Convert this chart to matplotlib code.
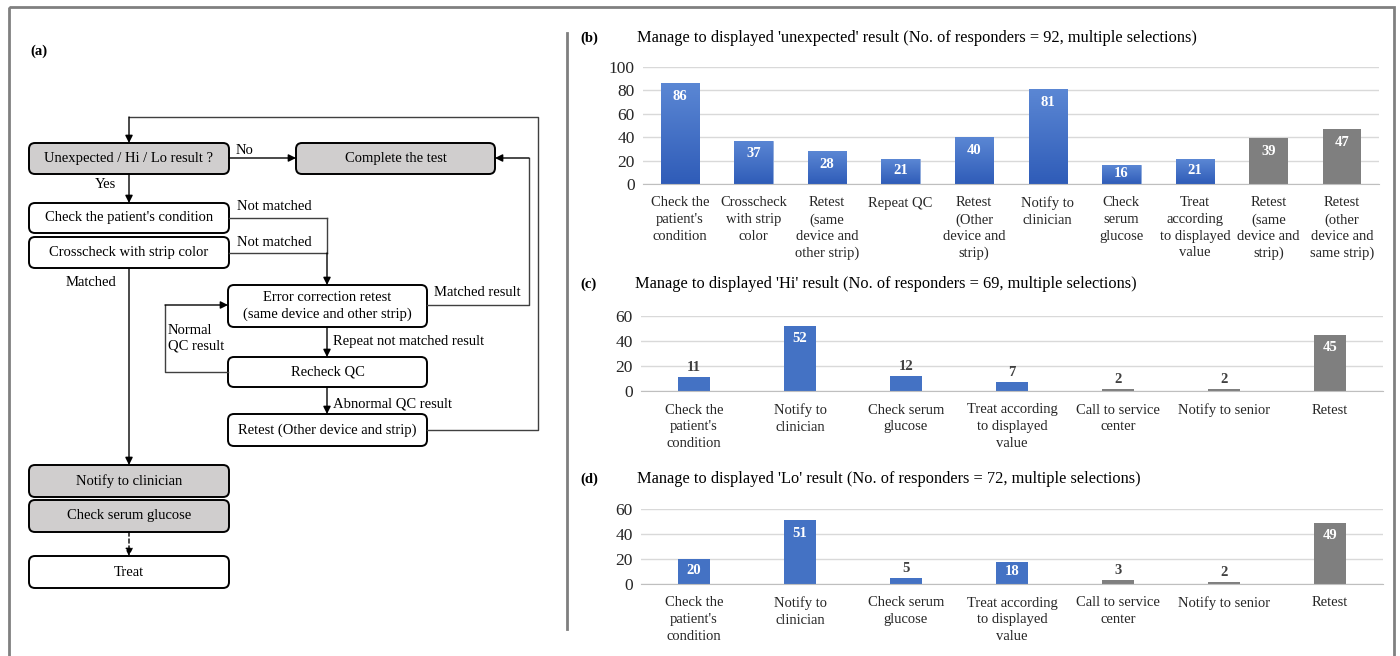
import numpy as np
import matplotlib
matplotlib.use("Agg")
import matplotlib.pyplot as plt
from matplotlib.patches import FancyBboxPatch, Rectangle
from matplotlib.colors import LinearSegmentedColormap

plt.rcParams['font.family'] = ['Liberation Serif', 'DejaVu Serif']

# survey answers, panels (b)-(d)
unexp_labels = ["Check the\npatient's\ncondition", "Crosscheck\nwith strip\ncolor",
                "Retest\n(same\ndevice and\nother strip)", "Repeat QC",
                "Retest\n(Other\ndevice and\nstrip)", "Notify to\nclinician",
                "Check\nserum\nglucose", "Treat\naccording\nto displayed\nvalue",
                "Retest\n(same\ndevice and\nstrip)", "Retest\n(other\ndevice and\nsame strip)"]
unexp_values = [86, 37, 28, 21, 40, 81, 16, 21, 39, 47]
unexp_grey = [False] * 8 + [True] * 2

hilo_labels = ["Check the\npatient's\ncondition", "Notify to\nclinician", "Check serum\nglucose",
               "Treat according\nto displayed\nvalue", "Call to service\ncenter",
               "Notify to senior", "Retest"]
hi_values = [11, 52, 12, 7, 2, 2, 45]
lo_values = [20, 51, 5, 18, 3, 2, 49]
hilo_grey = [False] * 4 + [True] * 3

BLUE = '#4472c4'
GREY = '#7f7f7f'
FS = 10.5
TITLE_FS = 11.8
YTICK_FS = 12.5

W, H = 1400, 656
fig = plt.figure(figsize=(W / 100, H / 100), dpi=100)

# canvas axis in pixel units for the flowchart and frame
ax0 = fig.add_axes([0, 0, 1, 1])
ax0.set_xlim(0, W)
ax0.set_ylim(H, 0)
ax0.axis('off')

ax0.add_patch(Rectangle((9, 7), 1385, 700, fill=False, ec='#808080', lw=2))
ax0.plot([567, 567], [33, 629], color='#7f7f7f', lw=2)


def box(x0, y0, x1, y1, text, grey=False):
    ax0.add_patch(FancyBboxPatch((x0, y0), x1 - x0, y1 - y0,
                                 boxstyle='round,pad=0,rounding_size=6',
                                 fc='#d0cece' if grey else 'white', ec='black', lw=1.4))
    ax0.text((x0 + x1) / 2, (y0 + y1) / 2, text, ha='center', va='center',
             fontsize=10.5, linespacing=1.3)


def path(pts, dashed=False, col='#404040'):
    pts = np.array(pts, dtype=float)
    ls = (0, (3, 2)) if dashed else '-'
    if len(pts) > 2:
        ax0.plot(pts[:-1, 0], pts[:-1, 1], color=col, lw=1, ls=ls)
    ax0.annotate('', xy=pts[-1], xytext=pts[-2],
                 arrowprops=dict(arrowstyle='-|>', color='black', lw=1, ls=ls,
                                 mutation_scale=11, shrinkA=0, shrinkB=0))


def seg(pts, col='#404040'):
    pts = np.array(pts, dtype=float)
    ax0.plot(pts[:, 0], pts[:, 1], color=col, lw=1)


ax0.text(30, 51, '(a)', fontsize=10.5, fontweight='bold', va='center')

box(29, 143, 229, 174, 'Unexpected / Hi / Lo result ?', grey=True)
box(296, 143, 495, 174, 'Complete the test', grey=True)
box(29, 203, 229, 233, "Check the patient's condition")
box(29, 237, 229, 268, 'Crosscheck with strip color')
box(228, 285, 427, 327, 'Error correction retest\n(same device and other strip)')
box(228, 357, 427, 387, 'Recheck QC')
box(228, 414, 427, 446, 'Retest (Other device and strip)')
box(29, 465, 229, 497, 'Notify to clinician', grey=True)
box(29, 500, 229, 532, 'Check serum glucose', grey=True)
box(29, 556, 229, 588, 'Treat')

path([(229, 158), (296, 158)])
path([(129, 174), (129, 203)])
seg([(229, 218), (327, 218)])
path([(229, 253), (327, 253), (327, 285)])
seg([(327, 218), (327, 253)])
path([(129, 268), (129, 465)])
path([(427, 305), (529, 305), (529, 158), (495, 158)])
path([(327, 327), (327, 357)])
path([(228, 372), (165, 372), (165, 305), (228, 305)])
path([(327, 387), (327, 414)])
path([(427, 430), (538, 430), (538, 117), (129, 117), (129, 143)])
path([(129, 532), (129, 556)], dashed=True)

flow_notes = [(236, 151, 'No'), (95, 185, 'Yes'), (237, 207, 'Not matched'),
              (237, 243, 'Not matched'), (66, 283, 'Matched'), (434, 293, 'Matched result'),
              (168, 338, 'Normal\nQC result'), (333, 341, 'Repeat not matched result'),
              (333, 404, 'Abnormal QC result')]
for x, y, s in flow_notes:
    ax0.text(x, y, s, fontsize=10.5, va='center', ha='left', linespacing=1.25)

blue_grad = LinearSegmentedColormap.from_list('bgrad', ['#2f5cb8', '#5b87d4'])


def bar_panel(rect_px, labels, values, grey, ymax, step, width, gradient=False):
    left, top, right, bottom = rect_px
    ax = fig.add_axes([left / W, (H - bottom) / H, (right - left) / W, (bottom - top) / H])
    x = np.arange(len(values))
    cols = [GREY if g else BLUE for g in grey]
    bars = ax.bar(x, values, width=width, color=cols, zorder=2)
    if gradient:
        grad = np.linspace(0, 1, 256).reshape(-1, 1)
        for b, g in zip(bars, grey):
            if g:
                continue
            bx, by = b.get_x(), b.get_y()
            im = ax.imshow(grad, extent=[bx, bx + b.get_width(), by, by + b.get_height()],
                           origin='lower', cmap=blue_grad, aspect='auto', zorder=2.5)
            im.set_clip_path(b)
            b.set_edgecolor('#8eaadc')
            b.set_linewidth(0.6)
    ax.set_xlim(-0.5, len(values) - 0.5)
    ax.set_ylim(0, ymax)
    ax.set_yticks(np.arange(0, ymax + 1, step))
    ax.set_xticks(x)
    ax.set_xticklabels(labels, fontsize=FS, linespacing=1.36, va='top')
    ax.tick_params(axis='both', length=0, colors='#262626')
    ax.tick_params(axis='y', labelsize=YTICK_FS, pad=6)
    ax.tick_params(axis='x', pad=9)
    ax.grid(axis='y', color='#d9d9d9', lw=1, zorder=0)
    for sp in ['top', 'right', 'left']:
        ax.spines[sp].set_visible(False)
    ax.spines['bottom'].set_color('#bfbfbf')
    ax.spines['bottom'].set_zorder(3)
    px_per_unit = (bottom - top) / ymax
    for b, v in zip(bars, values):
        cx = b.get_x() + b.get_width() / 2
        h_px = v * px_per_unit
        if h_px >= 17:
            drop = min(13, h_px * 0.45) * 0.72
            ax.annotate(str(v), (cx, v), xytext=(0, -drop), textcoords='offset points',
                        ha='center', va='center', color='white', fontweight='bold',
                        fontsize=FS, zorder=4)
        else:
            ax.annotate(str(v), (cx, v), xytext=(0, 2), textcoords='offset points',
                        ha='center', va='bottom', color='#404040', fontweight='bold',
                        fontsize=FS, zorder=4)
    return ax


bar_panel((643, 67, 1379, 184), unexp_labels, unexp_values, unexp_grey, 100, 20, 0.52,
          gradient=True)
bar_panel((641, 316, 1383, 391), hilo_labels, hi_values, hilo_grey, 60, 20, 0.31)
bar_panel((641, 509, 1383, 584), hilo_labels, lo_values, hilo_grey, 60, 20, 0.31)

titles = [(38, 637, "Manage to displayed 'unexpected' result (No. of responders = 92, multiple selections)", '(b)'),
          (284, 635, "Manage to displayed 'Hi' result (No. of responders = 69, multiple selections)", '(c)'),
          (479, 637, "Manage to displayed 'Lo' result (No. of responders = 72, multiple selections)", '(d)')]
for y, x, t, tag in titles:
    ax0.text(580, y, tag, fontsize=10.5, fontweight='bold', va='center')
    ax0.text(x, y, t, fontsize=TITLE_FS, va='center')

fig.savefig('out.png', dpi=100)
